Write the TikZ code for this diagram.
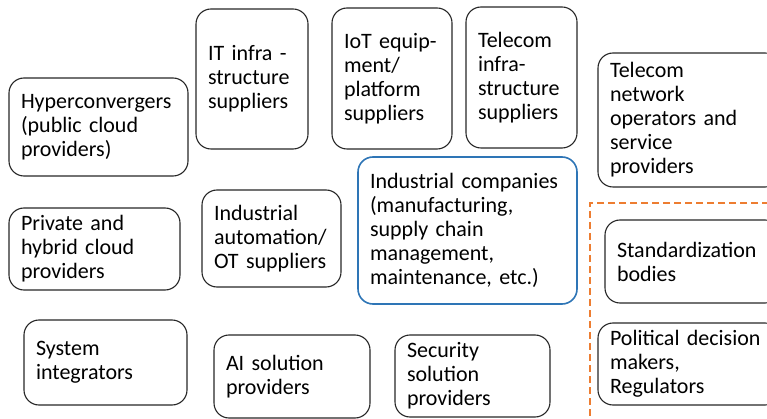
\documentclass[tikz,border=0pt]{standalone}
\usepackage{fontspec}
\setmainfont{Carlito}
\definecolor{boxblue}{HTML}{2E75B6}
\definecolor{dashorange}{HTML}{ED7D31}
\begin{document}
\begin{tikzpicture}[x=1pt, y=-1pt, align=left, actor/.style={draw=black!85,
  line width=1.1pt, rounded corners=15pt, inner xsep=12pt, inner ysep=0pt},
  core/.style={actor, draw=boxblue, line width=1.6pt}, every
  node/.style={font=\fontsize{22}{24}\selectfont} ]

\clip (0,0) rectangle (767,419);

% Top row
\node[actor, text width=155pt, minimum height=98pt] (hyper) at (98.5,127)
  {Hyperconvergers\\(public cloud\\providers)};
\node[actor, text width=88pt, minimum height=140pt] (itinfra) at (252,79)
  {IT infra -\\structure\\suppliers};
\node[actor, text width=96pt, minimum height=141pt] (iot) at (392,78.5)
  {IoT equip-\\ment/\\platform\\suppliers};
\node[actor, text width=87pt, minimum height=141pt] (telinfra) at (521.5,77.5)
  {Telecom\\infra-\\structure\\suppliers};
\node[actor, text width=158pt, minimum height=134pt] (telnet) at (689,120)
  {Telecom\\network\\operators and\\service\\providers};

% Middle row
\node[actor, text width=147pt, minimum height=82pt] (private) at (94.5,249)
  {Private and\\hybrid cloud\\providers};
\node[actor, text width=115pt, minimum height=97pt] (indauto) at (271.5,238.5)
  {Industrial\\automation/\\OT suppliers};
\node[core, text width=195pt, minimum height=147pt] (indcomp) at (467.5,230.5)
  {Industrial companies\\(manufacturing,\\supply chain\\management,\\maintenance, etc.)};

% Bottom row
\node[actor, text width=139pt, minimum height=85pt] (sysint) at (105.5,362.5)
  {System\\integrators};
\node[actor, text width=132pt, minimum height=83pt] (ai) at (292,376.5)
  {AI solution\\providers};
\node[actor, text width=131pt, minimum height=82pt] (security) at (472.5,376)
  {Security\\solution\\providers};

% Regulatory side
\node[actor, text width=151pt, minimum height=83pt] (standard) at (692.5,261.5)
  {Standardization\\bodies};
\node[actor, text width=158pt, minimum height=82pt] (political) at (689,364)
  {Political decision\\makers,\\Regulators};

\coordinate (frametop) at (780,203); \coordinate (framecorner) at (590,203);
\coordinate (framebottom) at (590,430);
\draw[dashorange, line width=1.2pt, dash pattern=on 7pt off 4pt] (frametop) --
  (framecorner) -- (framebottom);

\end{tikzpicture}
\end{document}
